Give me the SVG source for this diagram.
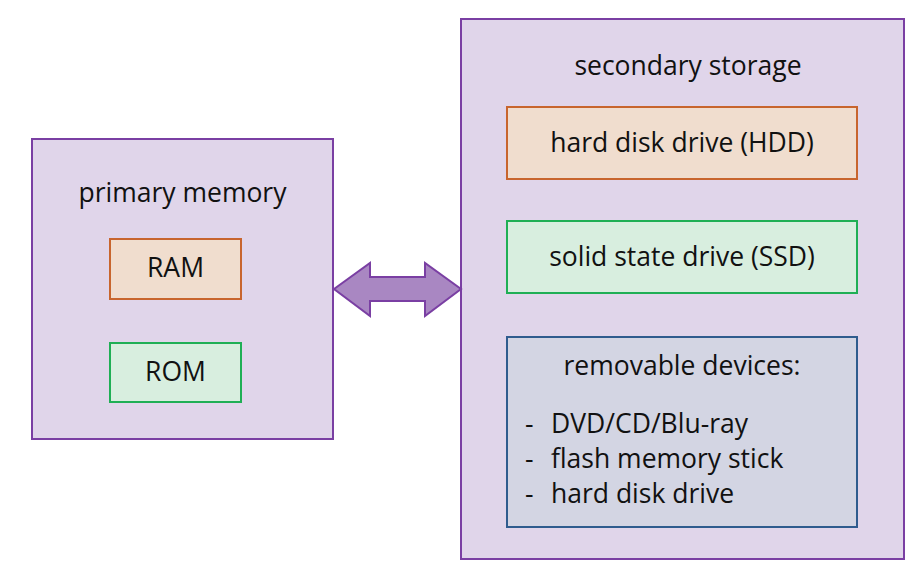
<svg xmlns="http://www.w3.org/2000/svg" width="924" height="582" viewBox="0 0 924 582">
<style>
text{font-family:"Open Sans","Noto Sans","DejaVu Sans",sans-serif;font-size:26.5px;fill:#111;}
.c{text-anchor:middle;}
.outer{fill:#E0D5EA;stroke:#7A3FA3;stroke-width:2;}
.orange{fill:#F0DDCE;stroke:#C8652E;stroke-width:2;}
.green{fill:#D8EEDF;stroke:#1FAF55;stroke-width:2;}
.blue{fill:#D3D5E3;stroke:#2F5C8E;stroke-width:2;}
.arrow{fill:#A987C2;stroke:#7A3FA3;stroke-width:2;stroke-linejoin:miter;}
</style>
<rect width="924" height="582" fill="#FFFFFF"/>
<g id="primary">
<rect class="outer" x="32" y="139" width="301" height="300"/>
<text class="c" x="182.5" y="202">primary memory</text>
</g>
<g id="ram">
<rect class="orange" x="110" y="239" width="131" height="60"/>
<text class="c" x="175.5" y="277">RAM</text>
</g>
<g id="rom">
<rect class="green" x="110" y="343" width="131" height="59"/>
<text class="c" x="175.5" y="381">ROM</text>
</g>
<g id="secondary">
<rect class="outer" x="461" y="19" width="443" height="540"/>
<text class="c" x="688" y="75">secondary storage</text>
</g>
<g id="hdd">
<rect class="orange" x="507" y="107" width="350" height="72"/>
<text class="c" x="682" y="152">hard disk drive (HDD)</text>
</g>
<g id="ssd">
<rect class="green" x="507" y="221" width="350" height="72"/>
<text class="c" x="682" y="266">solid state drive (SSD)</text>
</g>
<g id="removable">
<rect class="blue" x="507" y="337" width="350" height="190"/>
<text class="c" x="682" y="375">removable devices:</text>
<text x="525" y="433">-</text><text x="551" y="433">DVD/CD/Blu-ray</text>
<text x="525" y="468">-</text><text x="551" y="468">flash memory stick</text>
<text x="525" y="503">-</text><text x="551" y="503">hard disk drive</text>
</g>
<g id="connectors">
<polygon class="arrow" points="334,289 370,263 370,277 425,277 425,263 461,289 425,316 425,301 370,301 370,316"/>
</g>
</svg>
